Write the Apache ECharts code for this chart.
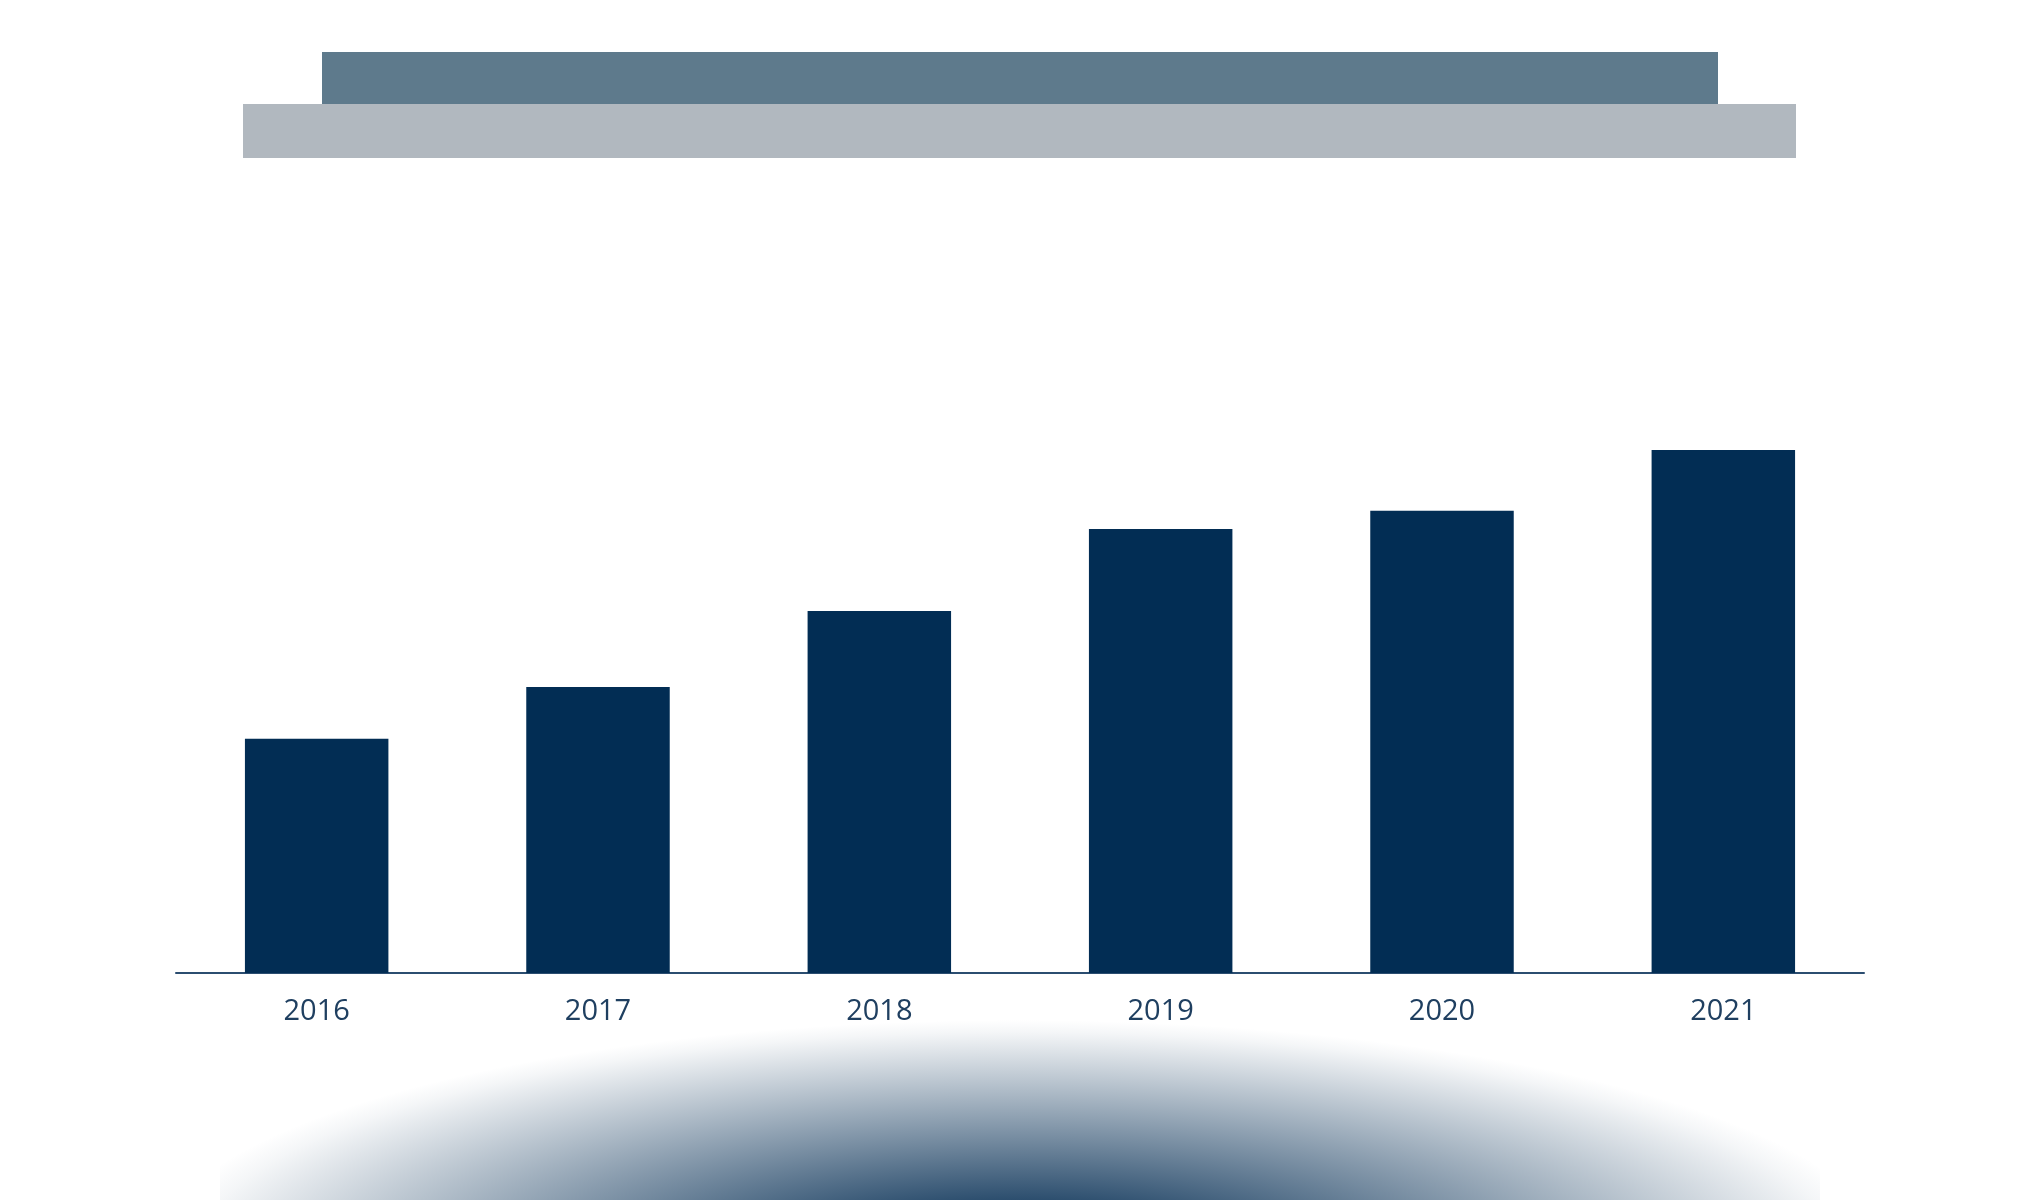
<!DOCTYPE html>
<html>
<head>
<meta charset="utf-8">
<script src="https://cdn.jsdelivr.net/npm/echarts@6/dist/echarts.min.js"></script>
<style>
html,body{margin:0;padding:0;background:#ffffff;}
#chart{width:2040px;height:1200px;}
</style>
</head>
<body>
<div id="chart"></div>
<script>
const categories = ['2016', '2017', '2018', '2019', '2020', '2021'];
const values = [44.8, 54.7, 69.2, 84.9, 88.4, 100];

const chart = echarts.init(document.getElementById('chart'));
chart.setOption({
  backgroundColor: '#ffffff',
  animation: false,
  grid: { left: 176, right: 176, top: 450, bottom: 227, containLabel: false },
  xAxis: {
    type: 'category',
    data: categories,
    axisLine: { show: true, lineStyle: { color: '#2b4d70', width: 2 } },
    axisTick: { show: false },
    axisLabel: {
      color: '#1f3f60',
      fontSize: 29,
      fontFamily: 'Open Sans',
      margin: 24
    }
  },
  yAxis: {
    type: 'value',
    min: 0,
    max: 100,
    show: false,
    splitLine: { show: false }
  },
  series: [{
    type: 'bar',
    data: values,
    barCategoryGap: '49%',
    itemStyle: { color: '#022d54' },
    z: 5
  }],
  graphic: [
    {
      type: 'rect',
      z: -10,
      x: 1018, y: 1260,
      scaleY: 0.2759,
      shape: { x: -798, y: -880, width: 1600, height: 880 },
      style: {
        fill: {
          type: 'radial', x: 0, y: 0, r: 870, global: true,
          colorStops: [
            { offset: 0, color: 'rgba(44,78,110,1)' },
            { offset: 0.25, color: 'rgba(44,78,110,1)' },
            { offset: 0.5, color: 'rgba(44,78,110,0.66)' },
            { offset: 0.75, color: 'rgba(44,78,110,0.32)' },
            { offset: 0.95, color: 'rgba(44,78,110,0.05)' },
            { offset: 1, color: 'rgba(44,78,110,0)' }
          ]
        }
      }
    },
    {
      type: 'rect',
      left: 243, top: 104,
      shape: { width: 1553, height: 54 },
      style: { fill: '#b1b8bf' }
    },
    {
      type: 'rect',
      left: 322, top: 52,
      shape: { width: 1396, height: 52 },
      style: { fill: '#5e7a8c' }
    }
  ]
});
</script>
</body>
</html>
